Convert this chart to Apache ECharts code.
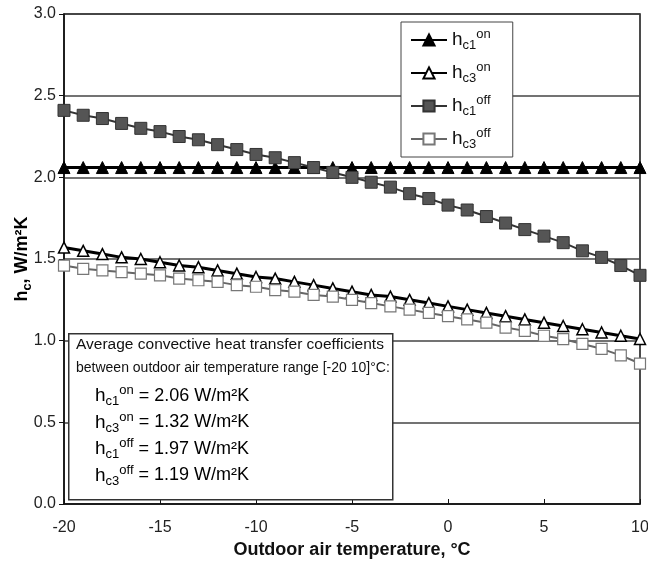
<!DOCTYPE html>
<html>
<head>
<meta charset="utf-8">
<script src="https://cdn.jsdelivr.net/npm/echarts@6/dist/echarts.min.js"></script>
<style>
  html, body { margin: 0; padding: 0; background: #fff; }
  #chart { width: 648px; height: 564px; }
</style>
</head>
<body>
<div id="chart"></div>
<script>
// outdoor air temperature, °C
var temps = [-20, -19, -18, -17, -16, -15, -14, -13, -12, -11, -10, -9, -8, -7, -6, -5,
  -4, -3, -2, -1, 0, 1, 2, 3, 4, 5, 6, 7, 8, 9, 10];

// convective heat transfer coefficients, W/m²K
var hc1on = [2.06, 2.06, 2.06, 2.06, 2.06, 2.06, 2.06, 2.06, 2.06, 2.06, 2.06, 2.06, 2.06, 2.06, 2.06, 2.06,
  2.06, 2.06, 2.06, 2.06, 2.06, 2.06, 2.06, 2.06, 2.06, 2.06, 2.06, 2.06, 2.06, 2.06, 2.06];
var hc3on = [1.57, 1.55, 1.53, 1.51, 1.50, 1.48, 1.46, 1.45, 1.43, 1.41, 1.39, 1.38, 1.36, 1.34, 1.32, 1.30,
  1.28, 1.27, 1.25, 1.23, 1.21, 1.19, 1.17, 1.15, 1.13, 1.11, 1.09, 1.07, 1.05, 1.03, 1.01];
var hc1off = [2.41, 2.38, 2.36, 2.33, 2.30, 2.28, 2.25, 2.23, 2.20, 2.17, 2.14, 2.12, 2.09, 2.06, 2.03, 2.00,
  1.97, 1.94, 1.90, 1.87, 1.83, 1.80, 1.76, 1.72, 1.68, 1.64, 1.60, 1.55, 1.51, 1.46, 1.40];
var hc3off = [1.46, 1.44, 1.43, 1.42, 1.41, 1.40, 1.38, 1.37, 1.36, 1.34, 1.33, 1.31, 1.30, 1.28, 1.27, 1.25,
  1.23, 1.21, 1.19, 1.17, 1.15, 1.13, 1.11, 1.08, 1.06, 1.03, 1.01, 0.98, 0.95, 0.91, 0.86];

var averages = [
  ['c1', 'on', '2.06'],
  ['c3', 'on', '1.32'],
  ['c1', 'off', '1.97'],
  ['c3', 'off', '1.19']
];

function pairs(ys) {
  return temps.map(function (t, i) { return [t, ys[i]]; });
}

var font = '"Liberation Sans", Arial, sans-serif';
var richHc = {
  h: { fontFamily: font, fontSize: 19, lineHeight: 24, color: '#111' },
  s: { fontFamily: font, fontSize: 13, lineHeight: 13, verticalAlign: 'bottom', color: '#111' },
  p: { fontFamily: font, fontSize: 13, lineHeight: 13, verticalAlign: 'top', color: '#111' },
  t: { fontFamily: font, fontSize: 18, lineHeight: 24, color: '#111' }
};

var legendNames = {
  hc1on: '{h|h}{s|c1}{p|on}',
  hc3on: '{h|h}{s|c3}{p|on}',
  hc1off: '{h|h}{s|c1}{p|off}',
  hc3off: '{h|h}{s|c3}{p|off}'
};

// text box with average values
var boxTexts = [
  { type: 'text', left: 76, top: 337, style: { text: 'Average convective heat transfer coefficients', font: '15.5px ' + font, fill: '#111' } },
  { type: 'text', left: 76, top: 361, style: { text: 'between outdoor air temperature range [-20 10]°C:', font: '14px ' + font, fill: '#111' } }
];
averages.forEach(function (a, i) {
  boxTexts.push({
    type: 'text', left: 95, top: 384 + i * 26.5,
    style: {
      text: '{h|h}{s|' + a[0] + '}{p|' + a[1] + '}{t| = ' + a[2] + ' W/m²K}',
      rich: richHc
    }
  });
});

// y axis title, placed by hand next to the labels
var yTitle = {
  type: 'text', x: 22, y: 259, rotation: Math.PI / 2,
  style: {
    text: '{b|h}{bs|c}{b|, W/m²K}',
    align: 'center', verticalAlign: 'middle',
    rich: {
      b: { fontFamily: font, fontSize: 18, fontWeight: 'bold', lineHeight: 24, color: '#111' },
      bs: { fontFamily: font, fontSize: 13, fontWeight: 'bold', lineHeight: 13, verticalAlign: 'bottom', color: '#111' }
    }
  }
};

var chart = echarts.init(document.getElementById('chart'));
chart.setOption({
  animation: false,
  backgroundColor: '#fff',
  grid: {
    left: 64, right: 8, top: 14, bottom: 60, containLabel: false, outerBoundsMode: 'none',
    show: true, borderColor: '#111', borderWidth: 1.5
  },
  xAxis: {
    type: 'value', min: -20, max: 10, interval: 5,
    name: 'Outdoor air temperature, °C', nameLocation: 'middle', nameGap: 36,
    nameTextStyle: { fontFamily: font, fontSize: 18, fontWeight: 'bold', color: '#111' },
    axisLine: { onZero: false, lineStyle: { color: '#111', width: 1.5 } },
    axisTick: { inside: true, length: 5, lineStyle: { color: '#111' } },
    axisLabel: { fontFamily: font, fontSize: 16, color: '#222', margin: 16 },
    splitLine: { show: false }
  },
  yAxis: {
    type: 'value', min: 0, max: 3, interval: 0.5,
    axisLine: { onZero: false, lineStyle: { color: '#111', width: 1.5 } },
    axisTick: { length: 5, lineStyle: { color: '#111' } },
    axisLabel: {
      fontFamily: font, fontSize: 16, color: '#222', margin: 8,
      formatter: function (v) { return v.toFixed(1); }
    },
    splitLine: { lineStyle: { color: '#444', width: 1.5 } }
  },
  legend: {
    orient: 'vertical', left: 401, top: 22,
    padding: [6, 22, 6, 9], itemGap: 9, itemWidth: 36, itemHeight: 14,
    borderColor: '#444', borderWidth: 1, backgroundColor: '#fff',
    formatter: function (name) { return legendNames[name]; },
    textStyle: { rich: richHc },
    data: ['hc1on', 'hc3on', 'hc1off', 'hc3off']
  },
  graphic: [
    yTitle,
    {
      type: 'rect', left: 68, top: 333, z: 10,
      shape: { width: 324, height: 166 },
      style: { fill: '#fff', stroke: '#333', lineWidth: 1.5 }
    }
  ].concat(boxTexts.map(function (t) { t.z = 20; return t; })),
  series: [
    {
      name: 'hc1on', type: 'line', data: pairs(hc1on), showAllSymbol: true,
      symbol: 'triangle', symbolSize: 12,
      lineStyle: { color: '#000', width: 3 },
      itemStyle: { color: '#000', borderColor: '#000', borderWidth: 1 }
    },
    {
      name: 'hc3on', type: 'line', data: pairs(hc3on), showAllSymbol: true,
      symbol: 'triangle', symbolSize: 11,
      lineStyle: { color: '#000', width: 3 },
      itemStyle: { color: '#fff', borderColor: '#000', borderWidth: 1.5 }
    },
    {
      name: 'hc1off', type: 'line', data: pairs(hc1off), showAllSymbol: true,
      symbol: 'rect', symbolSize: 12,
      lineStyle: { color: '#333', width: 2 },
      itemStyle: { color: '#555', borderColor: '#333', borderWidth: 1 }
    },
    {
      name: 'hc3off', type: 'line', data: pairs(hc3off), showAllSymbol: true,
      symbol: 'rect', symbolSize: 11,
      lineStyle: { color: '#666', width: 2 },
      itemStyle: { color: '#fff', borderColor: '#777', borderWidth: 1.2 }
    }
  ]
});
</script>
</body>
</html>
